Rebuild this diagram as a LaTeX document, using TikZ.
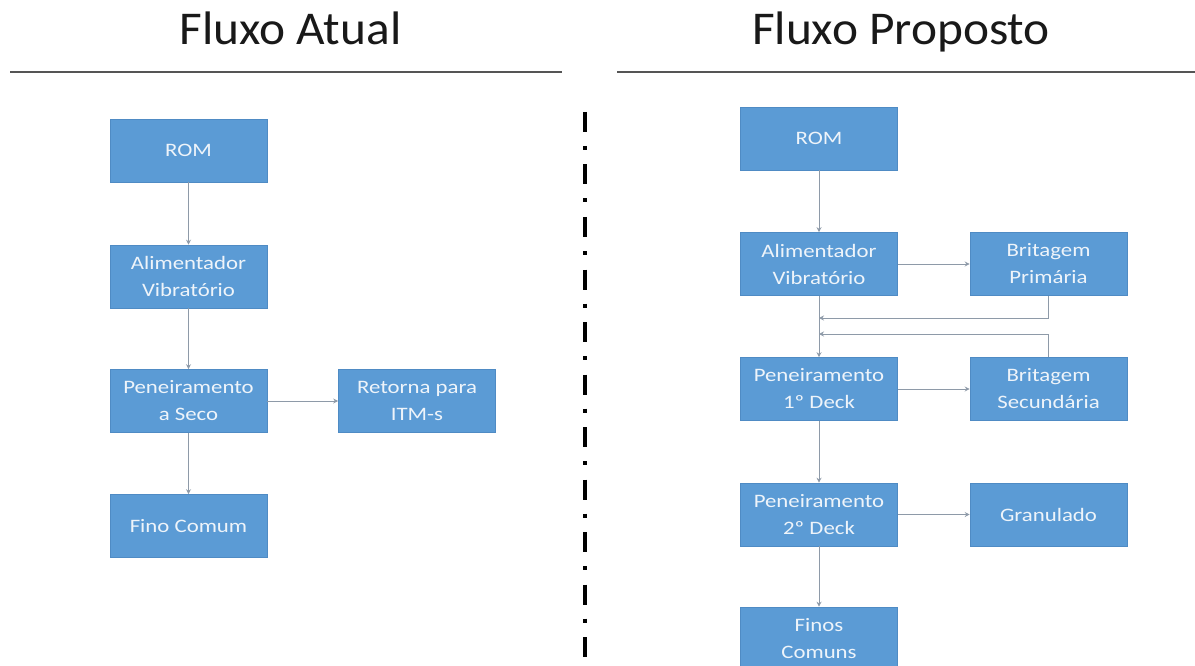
\documentclass[tikz,border=0pt]{standalone}
\usepackage{fontspec}
\setmainfont{Carlito}
\newfontfamily\boxfont[FakeStretch=1.2]{Carlito}
\newfontfamily\titlefont[FakeStretch=1.05]{Carlito}
\usetikzlibrary{arrows.meta}
\definecolor{boxblue}{HTML}{5B9BD5}
\definecolor{boxedge}{HTML}{4F8BC4}
\definecolor{boxtext}{HTML}{EEF4FA}
\definecolor{conncol}{HTML}{8E9AA8}
\definecolor{rulecol}{HTML}{555555}
\tikzset{
  x=1pt, y=-1pt,
  flowbox/.style={draw=boxedge, line width=0.6pt, fill=boxblue, text=boxtext,
    minimum width=157pt, minimum height=63pt, inner sep=0pt, align=center,
    font=\boxfont\fontsize{19}{27}\selectfont},
  conn/.style={draw=conncol, line width=1pt, -{Stealth[length=5pt,width=5pt]}},
  titletext/.style={anchor=base, inner sep=0pt, text=black!90,
    font=\titlefont\fontsize{47}{56}\selectfont},
  titlerule/.style={draw=rulecol, line width=1.3pt},
  divider/.style={draw=black, line width=3.5pt,
    dash pattern=on 20pt off 14pt on 4pt off 14.5pt}
}
\begin{document}
\begin{tikzpicture}
\fill[white] (0,0) rectangle (1195,666);
\useasboundingbox (0,0) rectangle (1195,666);

% titles and rules
\node[titletext] (t1) at (290.5,45) {Fluxo Atual};
\node[titletext] (t2) at (901,45) {Fluxo Proposto};
\coordinate (r1a) at (10,72);
\coordinate (r1b) at (562,72);
\coordinate (r2a) at (617,72);
\coordinate (r2b) at (1195,72);
\draw[titlerule] (r1a) -- (r1b);
\draw[titlerule] (r2a) -- (r2b);

% divider
\coordinate (d1) at (585,112);
\coordinate (d2) at (585,666);
\draw[divider] (d1) -- (d2);

% left flow
\node[flowbox] (lrom)  at (188.5,150.5) {ROM};
\node[flowbox] (lalim) at (188.5,276.5) {Alimentador\\Vibratório};
\node[flowbox] (lpen)  at (188.5,401)   {Peneiramento\\a Seco};
\node[flowbox] (lret)  at (417,401)     {Retorna para\\ITM-s};
\node[flowbox] (lfino) at (188.5,526)   {Fino Comum};

\draw[conn] (lrom) -- (lalim);
\draw[conn] (lalim) -- (lpen);
\draw[conn] (lpen) -- (lret);
\draw[conn] (lpen) -- (lfino);

% right flow
\node[flowbox] (rrom)  at (819,138.5)    {ROM};
\node[flowbox] (ralim) at (819,264)      {Alimentador\\Vibratório};
\node[flowbox] (rbp)   at (1048.5,264)   {Britagem\\Primária};
\node[flowbox] (rpen1) at (819,389)      {Peneiramento\\1º Deck};
\node[flowbox] (rbs)   at (1048.5,389)   {Britagem\\Secundária};
\node[flowbox] (rpen2) at (819,514.5)    {Peneiramento\\2º Deck};
\node[flowbox] (rgran) at (1048.5,514.5) {Granulado};
\node[flowbox] (rfin)  at (819,638.5)    {Finos\\Comuns};

\coordinate (j1) at (819,318);
\coordinate (j2) at (819,334);

\draw[conn] (rrom) -- (ralim);
\draw[conn] (ralim) -- (rbp);
\draw[conn] (ralim) -- (rpen1);
\draw[conn] (rbp.south) |- (j1);
\draw[conn] (rbs.north) |- (j2);
\draw[conn] (rpen1) -- (rbs);
\draw[conn] (rpen1) -- (rpen2);
\draw[conn] (rpen2) -- (rgran);
\draw[conn] (rpen2) -- (rfin);
\end{tikzpicture}
\end{document}
